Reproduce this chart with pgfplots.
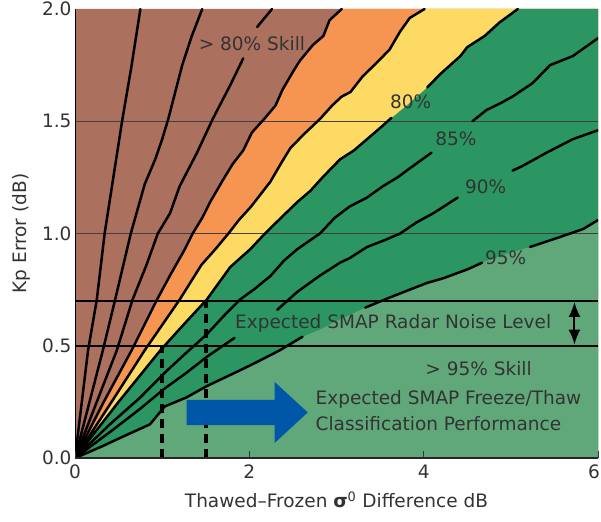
\documentclass[border=0pt]{standalone}
\usepackage{fontspec}
\setmainfont{DejaVu Sans}
\usepackage{pgfplots}
\pgfplotsset{compat=1.18}
\usetikzlibrary{arrows.meta}
\definecolor{cbrown}{HTML}{AC705E}
\definecolor{corange}{HTML}{F69552}
\definecolor{cyellow}{HTML}{FDDA63}
\definecolor{cdgreen}{HTML}{2B9662}
\definecolor{clgreen}{HTML}{60A87A}
\definecolor{cblue}{HTML}{0057A8}
\definecolor{ctext}{HTML}{333333}
\newcommand{\fs}{\fontsize{18.5bp}{22bp}\selectfont}

\begin{document}
\begin{tikzpicture}[font=\fs]
\begin{axis}[
  scale only axis, width=523bp, height=449bp,
  xmin=0, xmax=6, ymin=0, ymax=2,
  axis line style={draw=none},
  xtick={0,2,4,6}, ytick={0,0.5,1,1.5,2},
  xticklabels={0,2,4,\llap{6\kern-2bp}},
  xtick pos=bottom, ytick pos=left,
  tick align=inside,
  major tick length=7bp,
  ytick style={draw=none},
  xtick style={draw=ctext, line width=0.8bp},
  yticklabel style={/pgf/number format/.cd, fixed, fixed zerofill, precision=1},
  /pgf/number format/assume math mode=true,
  tick label style={text=ctext, font=\fs},
  xticklabel style={yshift=-3bp},
  xlabel={Thawed–Frozen \textbf{σ}\textsuperscript{0} Difference dB},
  ylabel={Kp Error (dB)},
  xlabel style={at={(axis description cs:0.5,-0.0935)}, anchor=center, text=ctext},
  ylabel style={at={(axis description cs:-0.1033,0.5)}, anchor=center, text=ctext},
  axis on top,
  no markers,
]
\coordinate (sw) at (rel axis cs:0,0);
\coordinate (ne) at (rel axis cs:1,1);

% ---- filled regions ----
\addplot[draw=none, fill=cbrown] coordinates {(0,0) (0,2) (6,2) (6,0)} \closedcycle;
\addplot[draw=none, fill=corange] coordinates {(0,0) (0.33,0.25) (0.65,0.48) (0.94,0.705) (1.10,0.82) (1.26,0.93) (1.35,1.0) (1.46,1.07) (1.55,1.14) (1.70,1.24) (1.81,1.31) (1.93,1.37) (2.03,1.45) (2.17,1.51) (2.30,1.57) (2.38,1.64) (2.50,1.72) (2.58,1.77) (2.73,1.84) (2.85,1.88) (2.92,1.95) (3.06,2.0) (6,2) (6,0)} \closedcycle;
\addplot[draw=none, fill=cyellow] coordinates {(0,0) (0.42,0.25) (0.80,0.48) (1.20,0.705) (1.45,0.86) (1.61,0.93) (1.76,1.0) (1.88,1.06) (2.02,1.12) (2.12,1.17) (2.24,1.23) (2.36,1.31) (2.47,1.38) (2.62,1.44) (2.81,1.51) (2.95,1.57) (3.06,1.61) (3.16,1.63) (3.30,1.70) (3.46,1.76) (3.61,1.82) (3.73,1.90) (3.84,1.96) (4.01,2.0) (6,2) (6,0)} \closedcycle;
\addplot[draw=none, fill=cdgreen] coordinates {(0,0) (0.50,0.25) (0.98,0.48) (1.26,0.60) (1.51,0.705) (1.78,0.85) (2.01,0.93) (2.18,1.0) (2.39,1.08) (2.55,1.14) (2.70,1.19) (2.84,1.25) (3.04,1.33) (3.20,1.37) (3.35,1.42) (3.50,1.47) (3.65,1.52) (3.85,1.585) (4.04,1.65) (4.19,1.71) (4.42,1.79) (4.50,1.83) (4.70,1.88) (4.87,1.94) (5.08,2.0) (6,2) (6,0)} \closedcycle;
\addplot[draw=none, fill=clgreen] coordinates {(0,0) (0.30,0.05) (0.52,0.09) (0.86,0.15) (1.03,0.23) (1.28,0.27) (1.51,0.32) (1.70,0.355) (1.89,0.39) (2.10,0.43) (2.35,0.48) (2.61,0.54) (2.80,0.57) (3.00,0.61) (3.17,0.64) (3.33,0.67) (3.58,0.71) (3.84,0.75) (4.04,0.78) (4.22,0.80) (4.50,0.84) (4.67,0.87) (4.95,0.91) (5.22,0.94) (5.53,0.98) (5.83,1.02) (6.0,1.06) (6,0)} \closedcycle;

% ---- grid lines ----
\addplot[color=black!75, line width=1.2bp] coordinates {(0,1) (6,1)};
\addplot[color=black!75, line width=1.2bp] coordinates {(0,1.5) (6,1.5)};

% ---- contour lines ----
\pgfplotsset{cl/.style={black, line width=2.5bp, line join=round, line cap=round}}
\addplot[cl] coordinates {(0,0) (0.15,0.48) (0.25,0.705) (0.34,1.0) (0.44,1.25) (0.54,1.5) (0.65,1.75) (0.75,2.0)};
\addplot[cl] coordinates {(0,0) (0.32,0.48) (0.46,0.705) (0.64,1.0) (0.80,1.22) (0.92,1.33) (1.0,1.42) (1.07,1.51) (1.13,1.60) (1.23,1.75) (1.34,1.88) (1.46,2.0)};
\addplot[cl] coordinates {(0,0) (0.48,0.48) (0.66,0.705) (0.82,0.86) (0.95,1.0) (1.09,1.09) (1.20,1.21) (1.40,1.36) (1.58,1.51) (1.70,1.60) (1.78,1.66) (1.93,1.78)};
\addplot[cl] coordinates {(2.09,1.92) (2.26,2.0)};
% brown/orange
\addplot[cl] coordinates {(0,0) (0.33,0.25) (0.65,0.48) (0.94,0.705) (1.10,0.82) (1.26,0.93) (1.35,1.0) (1.46,1.07) (1.55,1.14) (1.70,1.24) (1.81,1.31) (1.93,1.37) (2.03,1.45) (2.17,1.51) (2.30,1.57) (2.38,1.64) (2.50,1.72) (2.58,1.77) (2.73,1.84) (2.85,1.88) (2.92,1.95) (3.06,2.0)};
% orange/yellow
\addplot[cl] coordinates {(0,0) (0.42,0.25) (0.80,0.48) (1.20,0.705) (1.45,0.86) (1.61,0.93) (1.76,1.0) (1.88,1.06) (2.02,1.12) (2.12,1.17) (2.24,1.23) (2.36,1.31) (2.47,1.38) (2.62,1.44) (2.81,1.51) (2.95,1.57) (3.06,1.61) (3.16,1.63) (3.30,1.70) (3.46,1.76) (3.61,1.82) (3.73,1.90) (3.84,1.96) (4.01,2.0)};
% 80%
\addplot[cl] coordinates {(0,0) (0.50,0.25) (0.98,0.48) (1.26,0.60) (1.51,0.705) (1.78,0.85) (2.01,0.93) (2.18,1.0) (2.39,1.08) (2.55,1.14) (2.70,1.19) (2.84,1.25) (3.04,1.33) (3.20,1.37) (3.35,1.42) (3.50,1.47) (3.63,1.515)};
\addplot[cl] coordinates {(4.04,1.65) (4.19,1.71) (4.42,1.79) (4.50,1.83) (4.70,1.88) (4.87,1.94) (5.08,2.0)};
% 85%
\addplot[cl] coordinates {(0,0) (0.40,0.15) (0.75,0.27) (1.03,0.38) (1.28,0.47) (1.51,0.55) (1.70,0.63) (1.89,0.705) (2.05,0.75) (2.24,0.81) (2.40,0.88) (2.55,0.93) (2.81,1.0) (2.98,1.07) (3.15,1.12) (3.35,1.16) (3.53,1.21) (3.70,1.25) (3.84,1.29) (4.09,1.36)};
\addplot[cl] coordinates {(4.56,1.50) (4.72,1.55) (4.88,1.58) (5.02,1.61) (5.25,1.67) (5.45,1.75) (5.71,1.79) (6.0,1.87)};
% 90%
\addplot[cl] coordinates {(0,0) (0.45,0.13) (0.75,0.22) (1.03,0.31) (1.28,0.38) (1.51,0.45) (1.83,0.535)};
\addplot[cl] coordinates {(2.32,0.66) (2.55,0.74) (2.80,0.81) (3.04,0.87) (3.15,0.89) (3.35,0.94) (3.55,0.97) (3.73,1.00) (3.92,1.05) (4.11,1.09) (4.39,1.16)};
\addplot[cl] coordinates {(5.02,1.28) (5.13,1.30) (5.41,1.36) (5.71,1.42) (6.0,1.46)};
% 95%
\addplot[cl] coordinates {(0,0) (0.30,0.05) (0.52,0.09) (0.86,0.15) (1.03,0.23) (1.28,0.27) (1.51,0.32) (1.70,0.355) (1.89,0.39) (2.10,0.43) (2.35,0.48) (2.61,0.54)};
\addplot[cl] coordinates {(3.33,0.67) (3.58,0.71) (3.84,0.75) (4.04,0.78) (4.22,0.80) (4.50,0.84) (4.67,0.87)};
\addplot[cl] coordinates {(5.22,0.94) (5.53,0.98) (5.83,1.02) (6.0,1.06)};

% ---- noise level lines ----
\addplot[black, line width=2.5bp] coordinates {(0,0.5) (6,0.5)};
\addplot[black, line width=2.5bp] coordinates {(0,0.7) (6,0.7)};

% ---- dashed verticals ----
\addplot[black, line width=3.5bp, dash pattern=on 9bp off 6bp] coordinates {(1.0,0) (1.0,0.5)};
\addplot[black, line width=3.5bp, dash pattern=on 9bp off 6bp] coordinates {(1.5,0) (1.5,0.7)};

% ---- arrows ----
\fill[cblue] (axis cs:1.28,0.147) -- (axis cs:2.29,0.147) -- (axis cs:2.29,0.067) -- (axis cs:2.67,0.203) -- (axis cs:2.29,0.339) -- (axis cs:2.29,0.259) -- (axis cs:1.28,0.259) -- cycle;
\draw[black, line width=2bp, {Latex[length=15bp,width=12bp]}-{Latex[length=15bp,width=12bp]}] (axis cs:5.73,0.695) -- (axis cs:5.73,0.505);

% ---- labels ----
\node[text=ctext] at (axis cs:2.03,1.845) {> 80\% Skill};
\node[text=ctext] at (axis cs:3.85,1.585) {80\%};
\node[text=ctext] at (axis cs:4.37,1.42) {85\%};
\node[text=ctext] at (axis cs:4.71,1.21) {90\%};
\node[text=ctext] at (axis cs:4.94,0.89) {95\%};
\node[text=ctext] at (axis cs:3.65,0.60) {Expected SMAP Radar Noise Level};
\node[text=ctext] at (axis cs:4.63,0.40) {> 95\% Skill};
\node[text=ctext, anchor=west, align=left, font=\fontsize{18.5bp}{26bp}\selectfont] at (axis cs:2.72,0.21) {Expected SMAP Freeze/Thaw\\Classification Performance};

% ---- axis lines ----
\draw[black, line width=2.5bp] (axis cs:0,2) -- (axis cs:0,0);
\draw[black!85, line width=2.2bp] (axis cs:0,0) -- (axis cs:6,0);
\end{axis}
\pgfresetboundingbox
\path[use as bounding box] ([xshift=-75bp,yshift=-63bp]sw) rectangle ([xshift=3bp,yshift=9bp]ne);
\end{tikzpicture}
\end{document}
